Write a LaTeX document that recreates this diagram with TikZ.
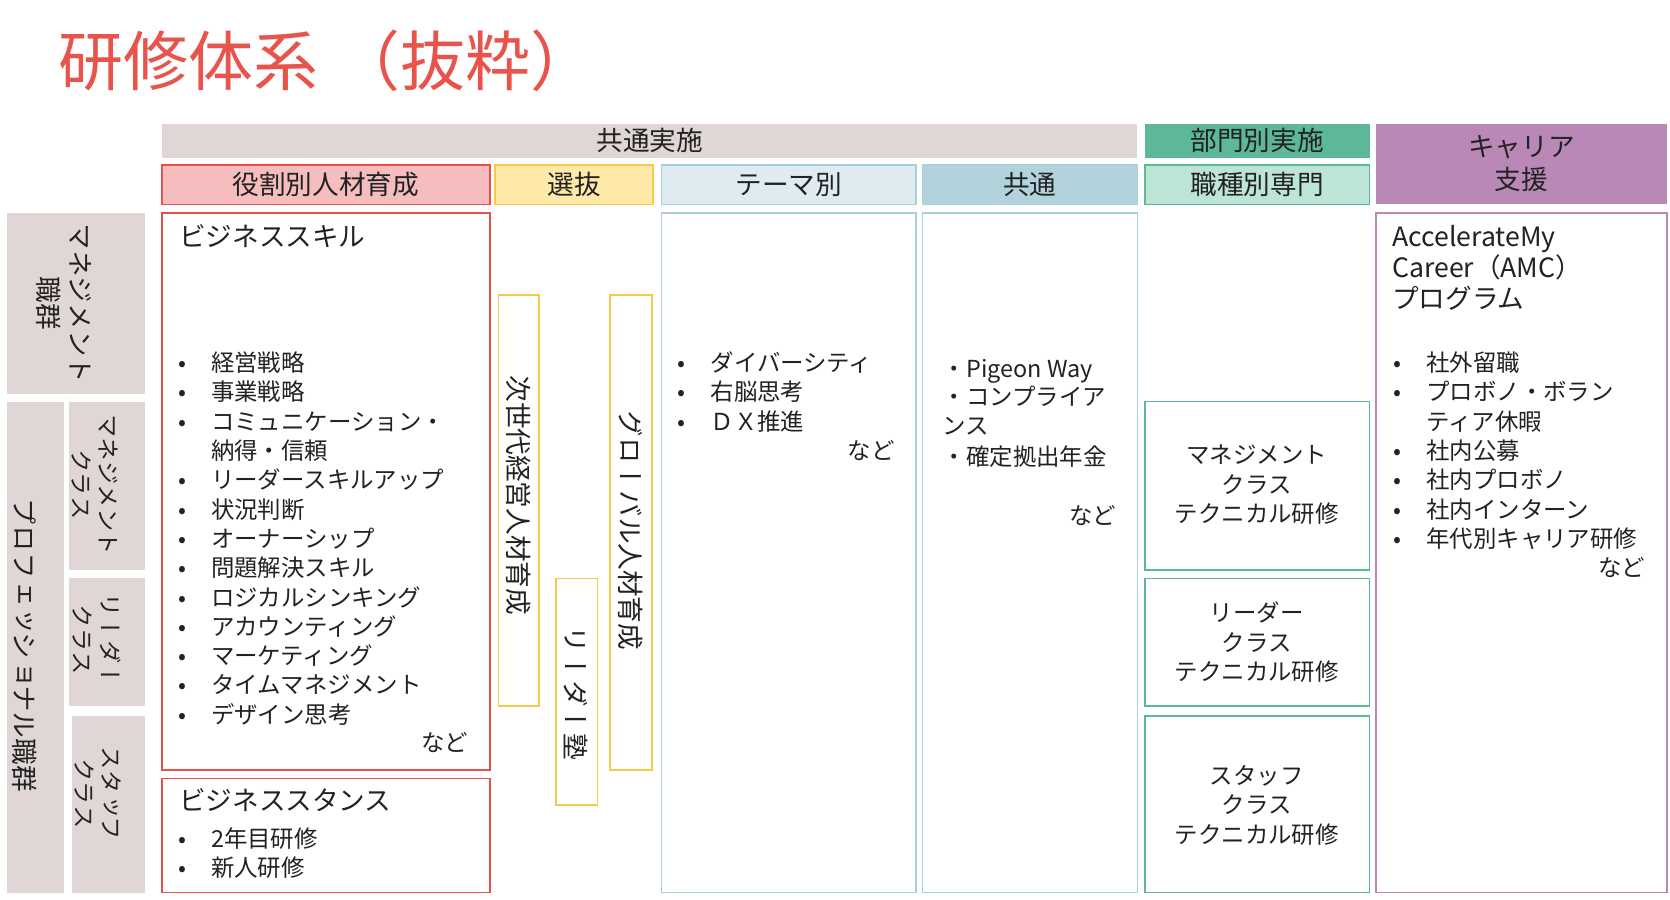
\documentclass[tikz,border=0pt]{standalone}
\usepackage{fontspec}
\setmainfont{Noto Sans CJK JP}
\newfontfamily\vfont[Vertical=RotatedGlyphs]{Noto Sans CJK JP}
\definecolor{titlered}{HTML}{E8534B}
\definecolor{graybg}{HTML}{E0D6D6}
\definecolor{green1}{HTML}{5CB896}
\definecolor{green2}{HTML}{BDE5D5}
\definecolor{purp}{HTML}{BA88B6}
\definecolor{redb}{HTML}{E8504F}
\definecolor{pinkf}{HTML}{F5BDBD}
\definecolor{yelb}{HTML}{F7C948}
\definecolor{yelf}{HTML}{FEE9A8}
\definecolor{blueb}{HTML}{A9D0D9}
\definecolor{bluef1}{HTML}{DEECF1}
\definecolor{bluef2}{HTML}{B3D3DC}
\definecolor{txt}{HTML}{222222}
\tikzset{
  cell/.style={anchor=north west, inner sep=0pt, outer sep=0pt, line width=1.5pt},
  hfont/.style={font=\fontsize{25}{31}\selectfont, text=txt},
  body/.style={font=\fontsize{22}{27.5}\selectfont, text=txt, inner sep=0pt, anchor=base west},
  big/.style={font=\fontsize{25}{30}\selectfont},
  vtext/.style={font=\fontsize{25}{30}\vfont, text=txt, rotate=-90, align=center, inner sep=0pt},
  vsmall/.style={font=\fontsize{22}{26}\vfont},
}
\begin{document}
\begin{tikzpicture}[x=1pt,y=-1pt]
\useasboundingbox[fill=white] (0,0) rectangle (1568,845);
% title
\node[anchor=west, inner sep=0pt, text=titlered, font=\fontsize{61}{64}\selectfont] (title) at (55,57) {研修体系\hspace{16pt}（抜粋）};
% header row 1
\node[cell, fill=graybg, minimum width=916pt, minimum height=32pt] (h1) at (152,116) {};
\node[hfont] (h1t) at (h1.center) {共通実施};
\node[cell, fill=green1, minimum width=211pt, minimum height=32pt] (h2) at (1075,116) {};
\node[hfont] (h2t) at (h2.center) {部門別実施};
\node[cell, fill=purp, minimum width=273pt, minimum height=76pt] (h3) at (1292,116) {};
\node[hfont, align=center] (h3t) at (h3.center) {キャリア\\支援};
% header row 2
\node[cell, draw=redb, fill=pinkf, minimum width=308pt, minimum height=37pt] (r1) at (152,155) {};
\node[hfont] (r1t) at (r1.center) {役割別人材育成};
\node[cell, draw=yelb, fill=yelf, minimum width=148pt, minimum height=37pt] (r2) at (465,155) {};
\node[hfont] (r2t) at (r2.center) {選抜};
\node[cell, draw=blueb, fill=bluef1, minimum width=239pt, minimum height=37pt] (r3) at (621,155) {};
\node[hfont] (r3t) at (r3.center) {テーマ別};
\node[cell, draw=blueb, fill=bluef2, minimum width=202pt, minimum height=37pt] (r4) at (866,155) {};
\node[hfont] (r4t) at (r4.center) {共通};
\node[cell, draw=green1, fill=green2, minimum width=211pt, minimum height=37pt] (r5) at (1075,155) {};
\node[hfont] (r5t) at (r5.center) {職種別専門};
% left labels
\node[cell, fill=graybg, minimum width=129pt, minimum height=170pt] (L1) at (7,200) {};
\node[vtext] (L1t) at (60,285) {マネジメント\\職群};
\node[cell, fill=graybg, minimum width=53pt, minimum height=461pt] (L2) at (7,377) {};
\node[vtext] (L2t) at (23,606) {プロフェッショナル職群};
\node[cell, fill=graybg, minimum width=71pt, minimum height=158pt] (L3) at (65,377) {};
\node[vtext, vsmall] (L3t) at (89,455) {マネジメント\\クラス};
\node[cell, fill=graybg, minimum width=71pt, minimum height=120pt] (L4) at (65,543) {};
\node[vtext, vsmall] (L4t) at (91,601) {リーダー\\クラス};
\node[cell, fill=graybg, minimum width=68pt, minimum height=166pt] (L5) at (68,672) {};
\node[vtext, vsmall] (L5t) at (92,745) {スタッフ\\クラス};
% business skill
\node[cell, draw=redb, minimum width=308pt, minimum height=523pt] (bs) at (152,200) {};
\node[body, big] (bst) at (168,231) {ビジネススキル};
\foreach \b/\t [count=\i from 0] in {•/経営戦略,•/事業戦略,•/コミュニケーション・,/納得・信頼,•/リーダースキルアップ,•/状況判断,•/オーナーシップ,•/問題解決スキル,•/ロジカルシンキング,•/アカウンティング,•/マーケティング,•/タイムマネジメント,•/デザイン思考}
  \node[body] (bs\i) at (167,349+27.5*\i) {\makebox[31pt][l]{\b}\t};
\node[body, anchor=base east] (bsn) at (440,706) {など};
% business stance
\node[cell, draw=redb, minimum width=308pt, minimum height=107pt] (bst2) at (152,731) {};
\node[body, big] (bstt) at (168,761) {ビジネススタンス};
\node[body] (bst1) at (167,796) {\makebox[31pt][l]{•}2年目研修};
\node[body] (bst3) at (167,823) {\makebox[31pt][l]{•}新人研修};
% selection
\node[cell, draw=yelb, minimum width=38pt, minimum height=386pt] (s1) at (468,277) {};
\node[vtext] (s1t) at (487,465) {次世代経営人材育成};
\node[cell, draw=yelb, minimum width=39pt, minimum height=213pt] (s2) at (522,543) {};
\node[vtext] (s2t) at (541,651) {リーダー塾};
\node[cell, draw=yelb, minimum width=39pt, minimum height=446pt] (s3) at (573,277) {};
\node[vtext] (s3t) at (592,498) {グローバル人材育成};
% theme
\node[cell, draw=blueb, minimum width=239pt, minimum height=638pt] (th) at (621,200) {};
\foreach \t [count=\i from 0] in {ダイバーシティ,右脳思考,ＤＸ推進}
  \node[body] (th\i) at (636,349+27.5*\i) {\makebox[31pt][l]{•}\t};
\node[body, anchor=base east] (thn) at (840,431) {など};
% common
\node[cell, draw=blueb, minimum width=202pt, minimum height=638pt] (cm) at (866,200) {};
\node[body] (cm1) at (885,354) {・Pigeon Way};
\node[body] (cm2) at (885,381) {・コンプライア};
\node[body] (cm3) at (885,408) {ンス};
\node[body] (cm4) at (885,437) {・確定拠出年金};
\node[body, anchor=base east] (cmn) at (1048,492) {など};
% technical
\node[cell, draw=green1, minimum width=211pt, minimum height=158pt] (t1) at (1075,377) {};
\node[body, anchor=center, align=center] (t1t) at (1180,455) {マネジメント\\クラス\\テクニカル研修};
\node[cell, draw=green1, minimum width=211pt, minimum height=120pt] (t2) at (1075,543) {};
\node[body, anchor=center, align=center] (t2t) at (1180,603) {リーダー\\クラス\\テクニカル研修};
\node[cell, draw=green1, minimum width=211pt, minimum height=166pt] (t3) at (1075,672) {};
\node[body, anchor=center, align=center] (t3t) at (1180,756) {スタッフ\\クラス\\テクニカル研修};
% career
\node[cell, draw=purp, minimum width=273pt, minimum height=638pt] (cr) at (1292,200) {};
\node[body, big] (cra) at (1307,231) {AccelerateMy};
\node[body, big] (crb) at (1307,261) {Career（AMC）};
\node[body, big] (crc) at (1307,290) {プログラム};
\foreach \b/\t [count=\i from 0] in {•/社外留職,•/プロボノ・ボラン,/ティア休暇,•/社内公募,•/社内プロボノ,•/社内インターン,•/年代別キャリア研修}
  \node[body] (cr\i) at (1308,349+27.5*\i) {\makebox[31pt][l]{\b}\t};
\node[body, anchor=base east] (crn) at (1545,541) {など};
\end{tikzpicture}
\end{document}
